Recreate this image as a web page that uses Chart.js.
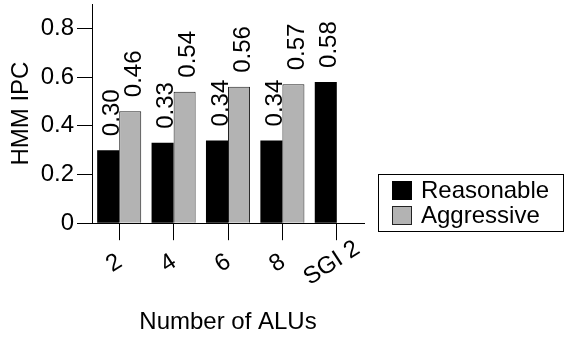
<!DOCTYPE html>
<html>
<head>
<meta charset="utf-8">
<script src="https://cdn.jsdelivr.net/npm/chart.js@4"></script>
<style>
  body { margin: 0; background: #fff; }
  #wrap { width: 566px; height: 337px; }
</style>
</head>
<body>
<div id="wrap"><canvas id="ipcChart"></canvas></div>
<script>
var ctx = document.getElementById('ipcChart').getContext('2d');

// values
var categories = ['2', '4', '6', '8', 'SGI 2']
var reasonable = [0.30, 0.33, 0.34, 0.34, 0.58]
var aggressive = [0.46, 0.54, 0.56, 0.57, null]
var yTicks = [0, 0.2, 0.4, 0.6, 0.8]

const FONT = 'Liberation Sans, Arial, Helvetica, sans-serif'
const SIZE = 24

Chart.defaults.font.family = FONT
Chart.defaults.font.size = SIZE
Chart.defaults.color = '#000'

// numbers on top of the bars, written bottom to top
var barValues = {
    id: 'barValues',
    afterDatasetsDraw(chart) {
        var c = chart.ctx
        c.save()
        c.fillStyle = '#000'
        c.font = SIZE + 'px ' + FONT
        chart.data.datasets.forEach(function(ds, di) {
            chart.getDatasetMeta(di).data.forEach(function(bar, i) {
                if (ds.data[i] == null) return
                c.save()
                c.translate(bar.x + 4, bar.y - 14)
                c.rotate(-Math.PI / 2)
                c.textAlign = 'left'
                c.textBaseline = 'middle'
                c.fillText(ds.data[i].toFixed(2), 0, 0)
                c.restore()
            })
        })
        c.restore()
    }
}

// slanted category labels under the ticks
var slantLabels = {
    id: 'slantLabels',
    afterDraw(chart) {
        var c = chart.ctx
        var x = chart.scales.x
        c.save()
        c.fillStyle = '#000'
        c.font = SIZE + 'px ' + FONT
        chart.data.labels.forEach(function(lab, i) {
            c.save()
            c.translate(x.getPixelForTick(i) - 5, x.top + 40)
            c.rotate(-33 * Math.PI / 180)
            c.textAlign = 'center'
            c.textBaseline = 'middle'
            c.fillText(lab, 0, 0)
            c.restore()
        })
        c.restore()
    }
}

// boxed legend to the right of the plot
var boxLegend = {
    id: 'boxLegend',
    afterDraw(chart) {
        var c = chart.ctx
        var left = 378, top = 174, w = 185, h = 57
        c.save()
        c.strokeStyle = '#000'
        c.lineWidth = 1
        c.strokeRect(left + 0.5, top + 0.5, w, h)
        c.font = SIZE + 'px ' + FONT
        c.textBaseline = 'middle'
        c.textAlign = 'left'
        chart.data.datasets.forEach(function(ds, i) {
            var y = top + 7 + i * 25
            c.fillStyle = ds.backgroundColor
            c.fillRect(392, y, 20, 19)
            c.strokeStyle = ds.borderColor
            c.strokeRect(392.5, y + 0.5, 19, 18)
            c.fillStyle = '#000'
            c.fillText(ds.label, 421, y + 10)
        })
        c.restore()
    }
}

var chart = new Chart(ctx, {
    type: 'bar',
    data: {
        labels: categories,
        datasets: [
            {
                label: 'Reasonable',
                data: reasonable,
                backgroundColor: '#000',
                borderColor: '#000',
                borderWidth: 0
            },
            {
                label: 'Aggressive',
                data: aggressive,
                backgroundColor: '#b3b3b3',
                borderColor: '#222',
                borderWidth: 1
            }
        ]
    },
    options: {
        responsive: true,
        maintainAspectRatio: false,
        animation: false,
        categoryPercentage: 0.81,
        barPercentage: 1,
        layout: { padding: { top: 4, right: 202, left: 0, bottom: 0 } },
        plugins: {
            legend: { display: false },
            tooltip: { enabled: false }
        },
        scales: {
            x: {
                afterFit: function(scale) { scale.paddingLeft = 0; scale.paddingRight = 0 },
                grid: { offset: false, drawOnChartArea: false, tickLength: 17, color: '#000' },
                border: { color: '#000', width: 1 },
                ticks: { display: false },
                title: {
                    display: true,
                    text: 'Number of ALUs',
                    padding: { top: 68, bottom: 0 }
                }
            },
            y: {
                min: 0,
                max: 0.9,
                afterFit: function(scale) {
                    scale.width = 92
                    scale.paddingTop = 0
                    scale.paddingBottom = 0
                },
                grid: { drawOnChartArea: false, tickLength: 15, color: '#000' },
                border: { color: '#000', width: 1 },
                afterBuildTicks: function(scale) {
                    scale.ticks = yTicks.map(function(v) { return { value: v } })
                },
                ticks: {
                    padding: 3,
                    callback: function(v) { return v === 0 ? '0' : v.toFixed(1) }
                },
                title: {
                    display: true,
                    text: 'HMM IPC',
                    padding: { top: 7, bottom: 0 }
                }
            }
        }
    },
    plugins: [barValues, slantLabels, boxLegend]
})
</script>
</body>
</html>
